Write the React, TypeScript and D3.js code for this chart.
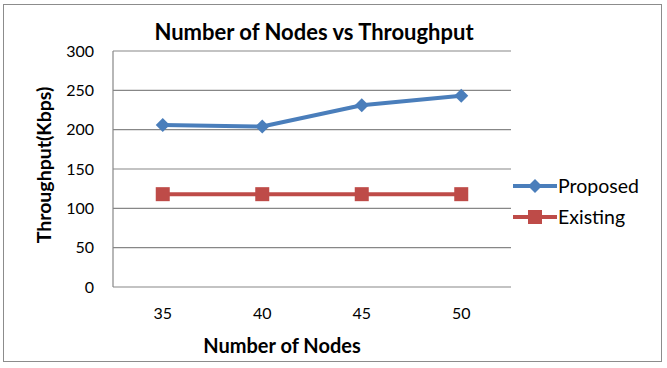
import React from "react";
import * as d3 from "d3";

const nodes = ["35", "40", "45", "50"];
const proposed = [206, 204, 231, 243];
const existing = [118, 118, 118, 118];
const yTicks = [0, 50, 100, 150, 200, 250, 300];

const W = 667;
const H = 368;
const FONT = "Lato, 'Open Sans', sans-serif";
const BLUE = "#4A7EBB";
const RED = "#BE4B48";

export default function App() {
  const x = d3.scaleBand<string>().domain(nodes).range([113, 511]);
  const y = d3.scaleLinear().domain([0, 300]).range([287, 51]);
  const cx = (d: string) => (x(d) ?? 0) + x.bandwidth() / 2;

  const line = d3
    .line<number>()
    .x((_, i) => cx(nodes[i]))
    .y((v) => y(v));

  const diamond = (px: number, py: number, r: number) =>
    `M${px},${py - r}L${px + r},${py}L${px},${py + r}L${px - r},${py}Z`;

  return (
    <svg
      width={W}
      height={H}
      style={{ position: "absolute", left: 0, top: 0, background: "#fff" }}
    >
      <rect x={3.5} y={4.5} width={658} height={357} fill="#fff" stroke="#8c8c8c" strokeWidth={1} />
      <text x={314} y={39.5} textAnchor="middle" fontFamily={FONT} fontWeight={700} fontSize={22} fill="#000">
        Number of Nodes vs Throughput
      </text>

      {yTicks.map((t) => (
        <g key={t}>
          <line x1={113} x2={511} y1={y(t)} y2={y(t)} stroke="#878787" strokeWidth={1.2} />
          <text x={94} y={y(t) + 5.5} textAnchor="end" fontFamily={FONT} fontSize={16} fill="#000">
            {t}
          </text>
        </g>
      ))}
      <line x1={113} x2={113} y1={51} y2={287} stroke="#878787" strokeWidth={1.2} />

      {nodes.map((n) => (
        <text key={n} x={cx(n)} y={319} textAnchor="middle" fontFamily={FONT} fontSize={16} fill="#000">
          {n}
        </text>
      ))}

      <text x={282} y={352.5} textAnchor="middle" fontFamily={FONT} fontWeight={700} fontSize={20} fill="#000">
        Number of Nodes
      </text>
      <text
        transform={`translate(51,165) rotate(-90)`}
        textAnchor="middle"
        fontFamily={FONT}
        fontWeight={700}
        fontSize={19.5}
        fill="#000"
      >
        Throughput(Kbps)
      </text>

      <path d={line(existing) ?? ""} fill="none" stroke={RED} strokeWidth={4} />
      {existing.map((v, i) => (
        <rect key={i} x={cx(nodes[i]) - 7} y={y(v) - 7} width={14} height={14} fill={RED} />
      ))}

      <path d={line(proposed) ?? ""} fill="none" stroke={BLUE} strokeWidth={4} strokeLinejoin="round" />
      {proposed.map((v, i) => (
        <path key={i} d={diamond(cx(nodes[i]), y(v), 7)} fill={BLUE} />
      ))}

      <line x1={513} x2={557} y1={186} y2={186} stroke={BLUE} strokeWidth={4} />
      <path d={diamond(535, 186, 7)} fill={BLUE} />
      <text x={558} y={193} fontFamily={FONT} fontSize={19.5} fill="#000">
        Proposed
      </text>

      <line x1={513} x2={557} y1={217} y2={217} stroke={RED} strokeWidth={4} />
      <rect x={528} y={210} width={14} height={14} fill={RED} />
      <text x={558} y={224} fontFamily={FONT} fontSize={19.5} fill="#000">
        Existing
      </text>
    </svg>
  );
}
